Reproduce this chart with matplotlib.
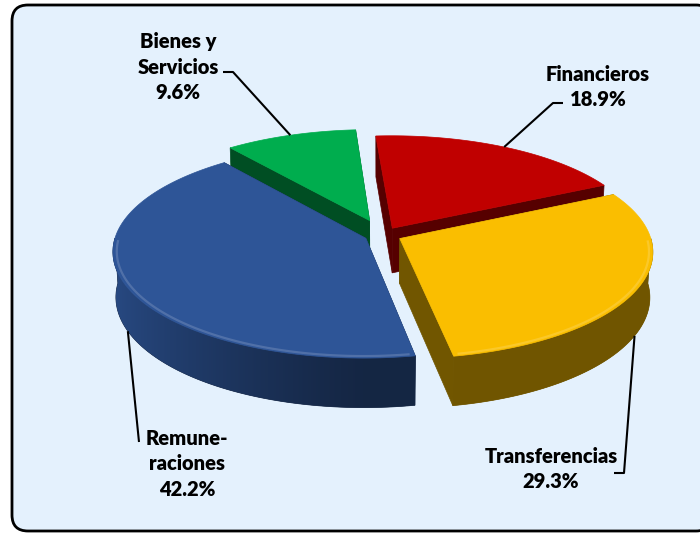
import numpy as np
import matplotlib.pyplot as plt
from matplotlib.patches import Polygon, FancyBboxPatch
from matplotlib.colors import to_rgb

# slice data, clockwise from 12 o'clock
labels = ['Financieros', 'Transferencias', 'Remune-\nraciones', 'Bienes y\nServicios']
shares = [18.9, 29.3, 42.2, 9.6]
colors = ['#C00000', '#FABE00', '#2E5597', '#00AD4E']
explode = [0.075, 0.075, 0.075, 0.15]

# label block centres and leader elbows (pixel coords)
label_xy = [(598, 87), (551, 469), (187, 464), (178, 67)]
leader_pts = [[(553, 103), (563, 103)],
              [(624, 473), (614, 473)],
              [(139, 442)],
              [(233, 72), (223, 72)]]

# 3d look of the pie
CX, CY, R = 383, 235, 250
TILT = np.radians(24.8)
DIST = 7.7
DEPTH = 0.2
START = -4.0


def project(px, pz, h=0.0):
    # px right, pz toward viewer, h up; simple perspective
    v = pz * np.sin(TILT) - h * np.cos(TILT)
    w = pz * np.cos(TILT) + h * np.sin(TILT)
    s = DIST / (DIST - w)
    return CX + R * px * s, CY + R * v * s


def rim(ang, off, h=0.0, r=1.0):
    a = np.radians(ang)
    return project(off[0] + r * np.sin(a), off[1] - r * np.cos(a), h)


def shade(color, k):
    return tuple(np.clip(np.array(to_rgb(color)) * k, 0, 1))


def lighten(color, k):
    c = np.array(to_rgb(color))
    return tuple(c + (1 - c) * k)


fig = plt.figure(figsize=(7, 5.35), dpi=100)
ax = fig.add_axes([0, 0, 1, 1])
ax.set_xlim(0, 700)
ax.set_ylim(535, 0)
ax.axis('off')

frame = FancyBboxPatch((12, 5), 700, 526, boxstyle='round,pad=0,rounding_size=16',
                       lw=2, ec='black', fc='#E4F1FD', zorder=0)
ax.add_patch(frame)

edges = START + np.concatenate([[0], np.cumsum(shares)]) / sum(shares) * 360
slices = []
for i in range(len(shares)):
    a0, a1 = edges[i], edges[i + 1]
    mid = (a0 + a1) / 2
    off = (explode[i] * np.sin(np.radians(mid)), -explode[i] * np.cos(np.radians(mid)))
    slices.append((i, a0, a1, mid, off))

# back slices first
order = sorted(slices, key=lambda s: -np.cos(np.radians(s[3])))
z = 1
for i, a0, a1, mid, off in order:
    col = colors[i]
    apex_t = project(off[0], off[1], 0)
    apex_b = project(off[0], off[1], -DEPTH)
    # cut faces
    for a in (a0, a1):
        quad = [apex_t, rim(a, off), rim(a, off, -DEPTH), apex_b]
        ax.add_patch(Polygon(quad, closed=True, fc=shade(col, 0.45), ec=shade(col, 0.45),
                             lw=0.5, zorder=z))
    z += 1
    # outer wall, front part only, shaded left to right
    lo, hi = max(a0, 90), min(a1, 270)
    if lo < hi:
        th = np.linspace(lo, hi, 200)
        top = np.array([rim(t, off) for t in th])
        bot = np.array([rim(t, off, -DEPTH) for t in th])
        wall = Polygon(np.vstack([top, bot[::-1]]), closed=True,
                       fc=shade(col, 0.45), ec=shade(col, 0.45), lw=0.5, zorder=z)
        ax.add_patch(wall)
        k = 0.45 + 0.42 * np.clip(-np.sin(np.radians(th)), 0, None) ** 1.2
        xs = top[:, 0]
        srt = np.argsort(xs)
        x0, x1 = xs.min() - 2, xs.max() + 2
        y0, y1 = min(top[:, 1].min(), bot[:, 1].min()) - 2, bot[:, 1].max() + 2
        xg = np.linspace(x0, x1, 300)
        kg = np.interp(xg, xs[srt], k[srt])
        img = np.array([shade(col, kk) for kk in kg])[None, :, :]
        im = ax.imshow(img, extent=(x0, x1, y1, y0), aspect='auto',
                       interpolation='bilinear', zorder=z)
        im.set_clip_path(wall)
    z += 1
    # top face
    th = np.linspace(a0, a1, 200)
    pts = [apex_t] + [rim(t, off) for t in th]
    ax.add_patch(Polygon(pts, closed=True, fc=col, ec=col, lw=0.5, zorder=z))
    z += 1
    if lo < hi:
        th = np.linspace(lo + 1, hi - 1, 100)
        hl = np.array([rim(t, off, 0, 0.985) for t in th])
        ax.plot(hl[:, 0], hl[:, 1], color=lighten(col, 0.22), lw=1.6, alpha=0.75,
                solid_capstyle='butt', zorder=z)
    z += 1

ax.set_xlim(0, 700)
ax.set_ylim(535, 0)

# labels with leader lines
for i, a0, a1, mid, off in slices:
    front = np.cos(np.radians(mid)) < 0
    anchor = rim(mid, off, -DEPTH if front else 0.0)
    path = [anchor] + leader_pts[i]
    xs, ys = zip(*path)
    ax.plot(xs, ys, color='black', lw=1.5, zorder=50, solid_capstyle='butt')

    lines = (labels[i] + '\n' + f'{shares[i]:.1f}%').split('\n')
    xc, yc = label_xy[i]
    n = len(lines)
    for j, line in enumerate(lines):
        ax.text(xc, yc + (j - (n - 1) / 2) * 25.5, line, ha='center', va='center',
                fontsize=14.5, fontweight='heavy', family=['Lato', 'DejaVu Sans'],
                color='black', zorder=60)

fig.savefig('out.png', dpi=100, facecolor='white')
